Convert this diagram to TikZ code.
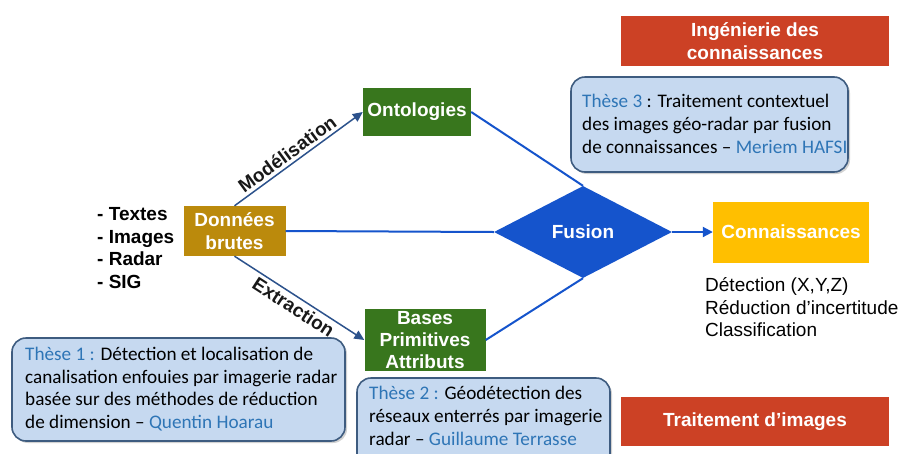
\documentclass[tikz,border=0pt]{standalone}
\usepackage{fontspec}
\setmainfont{Liberation Sans}
\newfontfamily\calibri{Carlito}
\usetikzlibrary{shapes.geometric,arrows.meta,shadows}
\definecolor{gold}{RGB}{187,138,12}
\definecolor{gdark}{RGB}{56,118,29}
\definecolor{fblue}{RGB}{21,84,204}
\definecolor{cyel}{RGB}{255,191,0}
\definecolor{cred}{RGB}{204,65,37}
\definecolor{navy}{RGB}{44,82,140}
\definecolor{tfill}{RGB}{198,217,240}
\definecolor{tbord}{RGB}{62,92,128}
\definecolor{tlab}{RGB}{46,117,182}
\tikzset{
  box/.style={draw=none, inner sep=0pt, align=center, text=white,
    font=\fontsize{19}{23}\selectfont\bfseries},
  thesebox/.style={draw=tbord, line width=1.6pt, fill=tfill, rounded corners=14pt,
    drop shadow={shadow xshift=2pt, shadow yshift=-2pt, opacity=0.35}},
  thesetext/.style={anchor=west, align=left, inner sep=0pt,
    font=\calibri\fontsize{19.2}{22.8}\selectfont},
  plain/.style={anchor=west, align=left, inner sep=0pt},
  navyarrow/.style={draw=navy, line width=1.5pt, -{Triangle[length=10pt,width=9pt]}},
  blueline/.style={draw=fblue, line width=2pt},
  edgelabel/.style={font=\fontsize{19}{21}\selectfont\bfseries, text=black!90, sloped, inner sep=3pt}
}
\begin{document}
\begin{tikzpicture}[x=1pt,y=-1pt]
\useasboundingbox (0,0) rectangle (899,453);
\clip (0,0) rectangle (899,453);
\fill[white] (0,0) rectangle (899,453);

% red category boxes
\node[box, fill=cred, minimum width=268pt, minimum height=50pt] (ing) at (755,41) {Ingénierie des\\connaissances};
\node[box, fill=cred, minimum width=268pt, minimum height=49pt] (trt) at (755,421.5) {Traitement d{\char"0027}images};

% main nodes
\node[box, fill=gold, minimum width=102pt, minimum height=50pt] (don) at (234.5,231) {Données\\brutes};
\node[box, fill=gdark, minimum width=108pt, minimum height=48pt] (onto) at (417,112) {Ontologies};
\node[box, fill=gdark, minimum width=121pt, minimum height=62pt, font=\fontsize{19}{22}\selectfont\bfseries] (bases) at (425,340) {Bases\\Primitives\\Attributs};
\node[diamond, aspect=2, fill=fblue, text=white, inner sep=0pt, minimum width=178pt, minimum height=92pt,
  font=\fontsize{19}{22}\selectfont\bfseries] (fus) at (583,232) {Fusion};
\node[box, fill=cyel, minimum width=156pt, minimum height=61pt] (conn) at (791,232) {Connaissances};

% list and results
\node[plain, font=\fontsize{19}{22.6}\selectfont\bfseries] (list) at (97,248) {- Textes\\- Images\\- Radar\\- SIG};
\node[plain, font=\fontsize{19}{22.5}\selectfont] (res) at (705,307.5) {Détection (X,Y,Z)\\Réduction d’incertitude\\Classification};

% connectors
\draw[navyarrow] (don.north) -- node[edgelabel, above, pos=0.46] {Modélisation} (onto.west);
\draw[navyarrow] (don.south) -- node[edgelabel, below, pos=0.5] {Extraction} (bases.west);
\draw[blueline] (onto.east) -- (fus.north);
\draw[blueline] (don.east) -- (fus.west);
\draw[blueline] (bases.east) -- (fus.south);
\draw[blueline, -{Triangle[length=10pt,width=10pt]}] (fus.east) -- (conn.west);

% these boxes
\node[thesebox, minimum width=277pt, minimum height=95pt] (t3) at (709.5,124.5) {};
\node[thesetext] (t3t) at (582,124) {\textcolor{tlab}{Thèse 3} : Traitement contextuel\\des images géo-radar par fusion\\de connaissances – \textcolor{tlab}{Meriem HAFSI}};

\node[thesebox, minimum width=333pt, minimum height=103pt] (t1) at (178.5,389.5) {};
\node[thesetext] (t1t) at (25,389) {\textcolor{tlab}{Thèse 1 :} Détection et localisation de\\canalisation enfouies par imagerie radar\\basée sur des méthodes de réduction\\de dimension – \textcolor{tlab}{Quentin Hoarau}};

\node[thesebox, minimum width=253pt, minimum height=90pt] (t2) at (483.5,423) {};
\node[thesetext] (t2t) at (369,416) {\textcolor{tlab}{Thèse 2 :} Géodétection des\\réseaux enterrés par imagerie\\radar – \textcolor{tlab}{Guillaume Terrasse}};
\end{tikzpicture}
\end{document}
